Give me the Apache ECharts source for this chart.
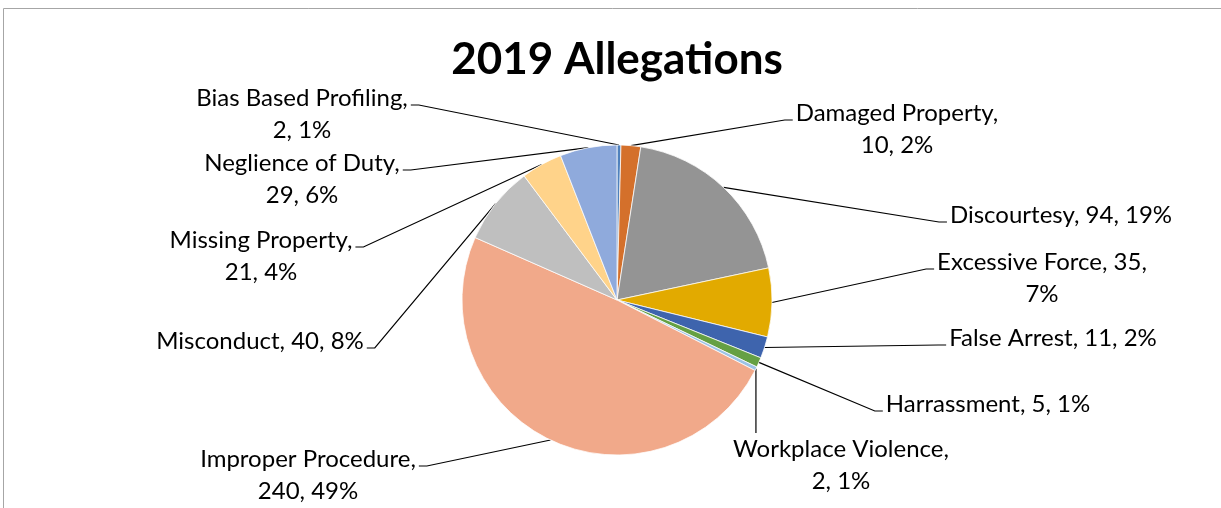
<!DOCTYPE html>
<html>
<head>
<meta charset="utf-8">
<script src="https://cdn.jsdelivr.net/npm/echarts@6/dist/echarts.min.js"></script>
<style>
html, body { margin: 0; padding: 0; background: #ffffff; }
#chart { width: 1221px; height: 508px; }
</style>
</head>
<body>
<div id="chart"></div>
<script>
// ---- data ----
const categories = ['Bias Based Profiling', 'Damaged Property', 'Discourtesy', 'Excessive Force', 'False Arrest', 'Harrassment', 'Workplace Violence', 'Improper Procedure', 'Misconduct', 'Missing Property', 'Neglience of Duty'];
const counts = [2, 10, 94, 35, 11, 5, 2, 240, 40, 21, 29];
const percentLabels = ['1%', '2%', '19%', '7%', '2%', '1%', '1%', '49%', '8%', '4%', '6%'];
const titleText = '2019 Allegations';

// ---- styling / layout (not data) ----
const sliceColors = ['#4F81BD', '#D4702B', '#949494', '#E2AA00', '#3E64AD', '#65A043', '#9DC3E6', '#F1A98A', '#BFBFBF', '#FFD38A', '#8FAADC'];
// label block centre x, first-line centre y, side of label where leader attaches, where text wraps
const labelPlacement = [
  { x: 302, y: 98, side: 'right', wrap: 'name' },
  { x: 897, y: 113, side: 'left', wrap: 'name' },
  { x: 1061, y: 215, side: 'left', wrap: 'none' },
  { x: 1042, y: 262, side: 'left', wrap: 'value' },
  { x: 1053, y: 338, side: 'left', wrap: 'none' },
  { x: 988, y: 404, side: 'left', wrap: 'none' },
  { x: 841, y: 449, side: 'top', wrap: 'name' },
  { x: 308, y: 459, side: 'right', wrap: 'name' },
  { x: 260, y: 341, side: 'right', wrap: 'none' },
  { x: 261, y: 240, side: 'right', wrap: 'name' },
  { x: 302, y: 163, side: 'right', wrap: 'name' }
];
const FONT = 'Lato, "Open Sans", sans-serif';
const LABEL_SIZE = 24;
const LINE_H = 32;

const pieData = categories.map((name, i) => ({
  name: name,
  value: counts[i],
  itemStyle: { color: sliceColors[i] }
}));

const chart = echarts.init(document.getElementById('chart'), null, { renderer: 'canvas' });
chart.setOption({
  animation: false,
  backgroundColor: '#ffffff',
  graphic: [{
    type: 'rect',
    shape: { x: 3.5, y: 8.5, width: 1400, height: 700 },
    style: { fill: 'none', stroke: '#a6a6a6', lineWidth: 1 },
    silent: true
  }],
  title: {
    text: titleText,
    left: 612,
    top: 33,
    textAlign: 'center',
    textStyle: { fontFamily: FONT, fontWeight: 'bold', fontSize: 44, color: '#000000' }
  },
  series: [{
    type: 'pie',
    center: [617, 300],
    radius: 155,
    startAngle: 90,
    clockwise: true,
    avoidLabelOverlap: false,
    silent: true,
    itemStyle: { borderColor: '#ffffff', borderWidth: 0.75 },
    data: pieData,
    label: {
      show: true,
      position: 'outside',
      fontFamily: FONT,
      fontSize: LABEL_SIZE,
      lineHeight: LINE_H,
      color: '#000000',
      align: 'center',
      formatter: function (p) {
        const w = labelPlacement[p.dataIndex].wrap;
        const pct = percentLabels[p.dataIndex];
        if (w === 'name') return p.name + ',\n' + p.value + ', ' + pct;
        if (w === 'value') return p.name + ', ' + p.value + ',\n' + pct;
        return p.name + ', ' + p.value + ', ' + pct;
      }
    },
    labelLine: {
      show: true,
      length: 10,
      length2: 10,
      lineStyle: { color: '#000000', width: 1.2 }
    },
    labelLayout: function (params) {
      const i = params.dataIndex;
      const p = labelPlacement[i];
      const w = params.labelRect.width;
      const top = p.y - LINE_H / 2;
      const anchor = params.labelLinePoints ? params.labelLinePoints[0] : [617, 300];
      const ay = p.y + 7;
      let pts;
      if (p.side === 'right') {
        const ex = p.x + w / 2 + 3;
        pts = [anchor, [ex + 8, ay], [ex, ay]];
      } else if (p.side === 'left') {
        const ex = p.x - w / 2 - 3;
        pts = [anchor, [ex - 8, ay], [ex, ay]];
      } else {
        pts = [anchor, [anchor[0], top], [anchor[0], top]];
      }
      return { x: p.x, y: top, align: 'center', verticalAlign: 'top', labelLinePoints: pts };
    },
    emphasis: { disabled: true }
  }]
});
</script>
</body>
</html>
